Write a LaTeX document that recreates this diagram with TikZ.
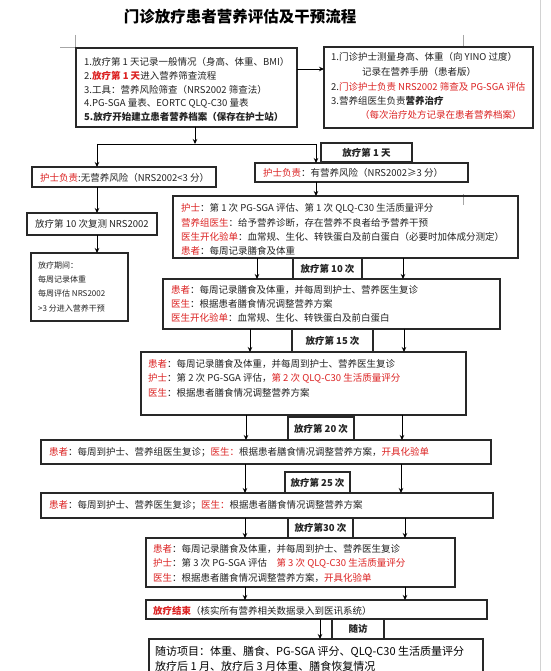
\documentclass[tikz,border=0pt]{standalone}
\usepackage{fontspec}
\setmainfont{Noto Sans CJK SC}
\usetikzlibrary{arrows.meta}
\definecolor{rd}{RGB}{220,35,35}
\definecolor{ln}{RGB}{40,40,40}
\definecolor{tk}{RGB}{35,35,35}
\newcommand\mkbox[6][]{\node[bx,#1,minimum width={#5pt-#3pt},minimum height={#6pt-#4pt}] (#2) at (#3,#4) {};}
\newcommand\rr[1]{\textcolor{rd}{#1}}
\begin{document}
\begin{tikzpicture}[x=1pt,y=-1pt,
  bx/.style={draw=ln,line width=1.1pt,inner sep=0pt,outer sep=0pt,anchor=north west},
  tx/.style={anchor=west,inner sep=0pt,font=\fontsize{9.5}{11}\selectfont,text=tk},
  sm/.style={anchor=west,inner sep=0pt,font=\fontsize{8}{9}\selectfont,text=tk},
  big/.style={anchor=west,inner sep=0pt,font=\fontsize{11}{12}\selectfont,text=black},
  lb/.style={font=\bfseries\fontsize{9.5}{11}\selectfont,text=tk},
  arr/.style={draw=black,line width=0.9pt,-{Stealth[length=5pt,width=4.5pt]}},
  lnk/.style={draw=black,line width=0.9pt},
  pgmark/.style={draw=gray!70,line width=0.6pt}]
\useasboundingbox (0,0) rectangle (550,671);
\fill[white] (0,0) rectangle (550,671);
% page marks
\coordinate (m1) at (75,35); \coordinate (m2) at (75,47); \coordinate (m3) at (60,47);
\draw[pgmark] (m1) -- (m2) -- (m3);
\coordinate (m4) at (463,35); \coordinate (m5) at (463,47);
\draw[pgmark] (m4) -- (m5);
\coordinate (m6) at (463,194); \coordinate (m7) at (463,205);
\draw[pgmark] (m6) -- (m7);
\coordinate (e1) at (540,0); \coordinate (e2) at (540,671);
\draw[draw=gray!35,line width=0.8pt] (e1) -- (e2);
% title
\node[font=\bfseries\fontsize{15.5}{17}\selectfont,text=black] (title) at (240,17) {门诊放疗患者营养评估及干预流程};
% box A
\mkbox{A}{76}{48}{297}{127}
\node[tx] (a1) at (84,62) {1.放疗第 1 天记录一般情况（身高、体重、BMI）};
\node[tx] (a2) at (84,76) {2.\rr{\textbf{放疗第 1 天}}进入营养筛查流程};
\node[tx] (a3) at (84,90) {3.工具：营养风险筛查（NRS2002 筛查法）};
\node[tx] (a4) at (84,103.5) {4.PG-SGA 量表、EORTC QLQ-C30 量表};
\node[tx] (a5) at (84,117) {\textbf{5.放疗开始建立患者营养档案（保存在护士站）}};
% box B
\mkbox{B}{324}{47}{533}{128}
\node[tx] (b1) at (331,57) {1.门诊护士测量身高、体重（向 YINO 过度）};
\node[tx] (b2) at (362,72) {记录在营养手册（患者版）};
\node[tx] (b3) at (331,87) {2.\rr{门诊护士负责 NRS2002 筛查及 PG-SGA 评估}};
\node[tx] (b4) at (331,101) {3.营养组医生负责\textbf{营养治疗}};
\node[tx] (b5) at (360,115) {\rr{（每次治疗处方记录在患者营养档案）}};
\coordinate (yab) at (0,69);
\draw[arr] (A.east |- yab) -- (B.west |- yab);
% split
\coordinate (j1) at (195,144);
\coordinate (xl) at (97,144);
\coordinate (xr) at (316,144);
\draw[arr] (A.south -| j1) -- (j1);
\draw[lnk] (xl) -- (xr);
\mkbox[lb]{L1}{321}{143}{412}{162}
\node[lb] (L1t) at (L1.center) {放疗第 1 天};
% C, D
\mkbox{C}{32}{167}{216}{187}
\node[tx] (c1) at (40,177.5) {\rr{护士负责}:无营养风险（NRS2002<3 分）};
\mkbox{D}{255}{163}{468}{182}
\node[tx] (d1) at (263,172.5) {\rr{护士负责}：有营养风险（NRS2002≥3 分）};
\draw[arr] (xl) -- (C.north -| xl);
\draw[arr] (xr) -- (D.north -| xr);
% E
\mkbox{E}{173}{196}{518}{258}
\draw[arr] (D.south -| xr) -- (E.north -| xr);
\node[tx] (e1t) at (181,208) {\rr{护士}：第 1 次 PG-SGA 评估、第 1 次 QLQ-C30 生活质量评分};
\node[tx] (e2t) at (181,222.5) {\rr{营养组医生}：给予营养诊断，存在营养不良者给予营养干预};
\node[tx] (e3t) at (181,237) {\rr{医生开化验单}：血常规、生化、转铁蛋白及前白蛋白（必要时加体成分测定）};
\node[tx] (e4t) at (181,251) {\rr{患者}：每周记录膳食及体重};
% F, G
\mkbox{F}{27}{213}{157}{235}
\node[tx] (f1) at (35,224) {放疗第 10 次复测 NRS2002};
\draw[arr] (C.south -| xl) -- (F.north -| xl);
\mkbox{G}{31}{253}{128}{321}
\draw[arr] (F.south -| xl) -- (G.north -| xl);
\node[sm] (g1) at (38,265) {放疗期间：};
\node[sm] (g2) at (38,279) {每周记录体重};
\node[sm] (g3) at (38,293) {每周评估 NRS2002};
\node[sm] (g4) at (38,308) {>3 分进入营养干预};
% H
\mkbox{L10}{293}{258}{362}{279}
\node[lb] (L10t) at (L10.center) {放疗第 10 次};
\mkbox{H}{163}{279}{500}{329}
\coordinate (x1) at (257,0); \coordinate (x2) at (403,0);
\draw[arr] (E.south -| x1) -- (H.north -| x1);
\draw[arr] (E.south -| x2) -- (H.north -| x2);
\node[tx] (h1) at (171,290) {\rr{患者}：每周记录膳食及体重，并每周到护士、营养医生复诊};
\node[tx] (h2) at (171,304) {\rr{医生}：根据患者膳食情况调整营养方案};
\node[tx] (h3) at (171,318) {\rr{医生开化验单}：血常规、生化、转铁蛋白及前白蛋白};
% I
\mkbox{L15}{292}{329}{373}{352}
\node[lb] (L15t) at (L15.center) {放疗第 15 次};
\mkbox{I}{141}{352}{466}{415}
\coordinate (x3) at (250,0); \coordinate (x4) at (404,0);
\draw[arr] (H.south -| x3) -- (I.north -| x3);
\draw[arr] (H.south -| x4) -- (I.north -| x4);
\node[tx] (i1) at (148,364) {\rr{患者}：每周记录膳食及体重，并每周到护士、营养医生复诊};
\node[tx] (i2) at (148,378) {\rr{护士}：第 2 次 PG-SGA 评估，\rr{第 2 次 QLQ-C30 生活质量评分}};
\node[tx] (i3) at (148,392.5) {\rr{医生}：根据患者膳食情况调整营养方案};
% J
\mkbox{L20}{288}{417}{354}{440}
\node[lb] (L20t) at (L20.center) {放疗第 20 次};
\mkbox{J}{41}{440}{491}{464}
\coordinate (x5) at (246,0); \coordinate (x6) at (402,0);
\draw[arr] (I.south -| x5) -- (J.north -| x5);
\draw[arr] (I.south -| x6) -- (J.north -| x6);
\node[tx] (j1t) at (49,452) {\rr{患者}：每周到护士、营养组医生复诊；\rr{医生：}根据患者膳食情况调整营养方案，\rr{开具化验单}};
% K
\mkbox{L25}{285}{472}{350}{493}
\node[lb] (L25t) at (L25.center) {放疗第 25 次};
\mkbox{K}{41}{493}{493}{518}
\coordinate (x7) at (245,0); \coordinate (x8) at (401,0);
\draw[arr] (J.south -| x7) -- (K.north -| x7);
\draw[arr] (J.south -| x8) -- (K.north -| x8);
\node[tx] (k1) at (49,505.5) {\rr{患者}：每周到护士、营养医生复诊；\rr{医生：}根据患者膳食情况调整营养方案};
% L
\mkbox{L30}{288}{518}{353}{538}
\node[lb] (L30t) at (L30.center) {放疗第30 次};
\mkbox{L}{146}{538}{455}{587}
\coordinate (x9) at (245,0); \coordinate (x10) at (405,0);
\draw[arr] (K.south -| x9) -- (L.north -| x9);
\draw[arr] (K.south -| x10) -- (L.north -| x10);
\node[tx] (l1) at (153,549) {\rr{患者}：每周记录膳食及体重，并每周到护士、营养医生复诊};
\node[tx] (l2) at (153,563) {\rr{护士}：第 3 次 PG-SGA 评估\quad\rr{第 3 次 QLQ-C30 生活质量评分}};
\node[tx] (l3) at (153,577.5) {\rr{医生}：根据患者膳食情况调整营养方案，\rr{开具化验单}};
% M
\mkbox{M}{146}{600}{487}{619}
\draw[arr] (L.south -| x9) -- (M.north -| x9);
\draw[arr] (L.south -| x10) -- (M.north -| x10);
\node[tx] (m1t) at (153,611) {\rr{\textbf{放疗结束}}（核实所有营养相关数据录入到医讯系统）};
% N
\mkbox{LS}{332}{619}{384}{639}
\node[lb] (LSt) at (LS.center) {随访};
\mkbox{N}{149}{639}{483}{700}
\coordinate (x11) at (320,0);
\draw[arr] (M.south -| x11) -- (N.north -| x11);
\node[big] (n1) at (155,652) {随访项目：体重、膳食、PG-SGA 评分、QLQ-C30 生活质量评分};
\node[big] (n2) at (155,666.5) {放疗后 1 月、放疗后 3 月体重、膳食恢复情况};
\end{tikzpicture}
\end{document}
